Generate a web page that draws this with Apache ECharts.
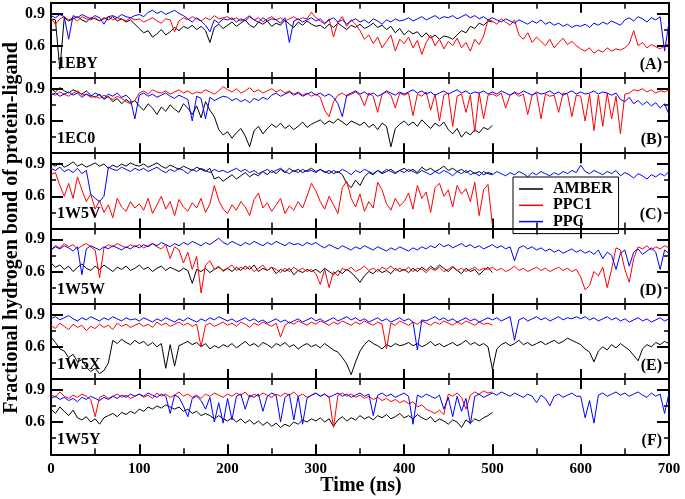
<!DOCTYPE html>
<html><head><meta charset="utf-8">
<script src="https://cdn.jsdelivr.net/npm/echarts@6/dist/echarts.min.js"></script>
<style>html,body{margin:0;padding:0;background:#fff}#c{width:685px;height:499px}</style>
</head><body><div id="c"></div>
<script>
// ---------------- data ----------------
const panelNames = ['1EBY', '1EC0', '1W5V', '1W5W', '1W5X', '1W5Y'];
const panelTags = ['(A)', '(B)', '(C)', '(D)', '(E)', '(F)'];
const seriesNames = ['AMBER', 'PPC1', 'PPC'];
const seriesColors = ['#000000', '#ff0000', '#0000ff'];
const sampleStep = 5; // ns between read-off samples
const yTickLabels = ['0.6', '0.9'];

// Panel A (1EBY)
const A_amber = [0.85,0.84,0.38,
0.86,0.83,0.85,0.87,0.84,0.82,0.86,0.85,0.83,0.86,0.84,0.87,0.83,0.85,0.82,0.84,0.80,
0.76,0.72,0.74,0.68,0.71,0.75,0.70,0.73,0.77,0.74,0.78,
0.76,0.79,0.75,0.78,0.74,0.63,0.77,0.80,0.76,0.79,
0.82,0.78,0.81,0.84,0.79,0.77,0.82,0.80,0.83,0.78,0.81,0.79,0.84,0.80,0.77,0.82,0.79,0.83,0.80,0.78,
0.79,0.76,0.80,0.77,0.81,0.78,0.75,0.79,0.77,0.80,0.76,0.78,0.81,0.77,0.79,0.75,
0.78,0.72,0.76,0.70,0.74,0.71,0.73,0.68,0.72,0.67,0.70,0.66,0.69,0.68,
0.66,0.70,0.74,0.72,0.78,0.76,0.81,0.79,0.83,0.82];
const A_ppc1 = [
0.86,0.80,0.85,0.87,0.84,0.86,0.83,0.87,0.85,0.84,0.86,0.83,0.85,0.87,0.84,0.86,0.85,0.83,0.86,0.84,
0.85,0.82,0.84,0.86,0.83,0.81,0.85,0.84,0.73,0.83,0.86,0.84,0.87,0.85,0.83,0.86,0.84,0.88,0.85,0.86,
0.87,0.84,0.86,0.83,0.85,0.88,0.84,0.86,0.82,0.85,0.87,0.84,0.86,0.83,0.85,0.87,0.84,0.86,0.85,0.91,
0.86,0.83,0.80,0.85,0.68,0.82,0.87,0.78,0.84,0.80,
0.74,0.66,0.70,0.62,0.68,0.58,0.64,0.70,0.55,0.66,
0.62,0.68,0.58,0.65,0.52,0.63,0.70,0.60,0.66,0.57,
0.64,0.60,0.67,0.58,0.63,0.55,0.66,0.61,0.69,0.84,
0.83,0.80,0.85,0.82,0.79,0.84,0.70,0.66,0.72,0.63,
0.68,0.64,0.60,0.66,0.58,0.63,0.67,0.61,0.64,0.60,
0.57,0.55,0.58,0.53,0.56,0.54,0.58,0.55,0.57,0.56,
0.58,0.62,0.74,0.60,0.63,0.58,0.61,0.59,0.57,0.60,0.62];
const A_ppc = [
0.88,0.86,0.89,0.87,0.66,0.88,0.86,0.89,0.87,0.85,0.88,0.86,0.80,0.87,0.88,0.86,0.89,0.87,0.86,0.88,
0.89,0.87,0.91,0.93,0.90,0.92,0.89,0.91,0.93,0.90,0.88,0.85,0.82,0.86,0.83,0.79,0.73,0.84,0.81,0.85,
0.84,0.86,0.82,0.85,0.83,0.87,0.84,0.82,0.86,0.83,0.85,0.84,0.81,0.86,0.63,0.83,0.85,0.82,0.84,0.86,
0.83,0.85,0.81,0.84,0.86,0.82,0.84,0.80,0.83,0.85,0.82,0.84,0.81,0.85,0.83,0.80,0.84,0.82,0.85,0.83,
0.84,0.86,0.83,0.85,0.87,0.84,0.86,0.88,0.85,0.87,0.86,0.88,0.85,0.87,0.89,0.86,0.88,0.85,0.87,0.84,
0.86,0.84,0.82,0.85,0.83,0.81,0.84,0.82,0.80,0.83,0.81,0.84,0.80,0.82,0.79,0.81,0.78,0.80,0.77,0.79,
0.78,0.80,0.77,0.81,0.79,0.82,0.80,0.83,0.81,0.79,0.84,0.86,0.83,0.87,0.85,0.82,0.86,0.84,0.87,0.55,0.82];

// Panel B (1EC0)
const B_amber = [
0.90,0.87,0.91,0.88,0.86,0.89,0.87,0.85,0.88,0.84,
0.82,0.85,0.80,0.83,0.78,0.81,0.76,0.80,0.77,0.79,
0.74,0.70,0.76,0.72,0.66,0.73,0.69,0.75,0.71,0.68,
0.76,0.72,0.66,0.74,0.63,0.78,0.70,0.64,
0.52,0.47,0.50,0.44,0.49,0.53,0.46,0.36,0.51,0.55,0.48,0.53,
0.57,0.54,0.58,0.53,0.56,0.52,0.55,0.59,0.54,0.57,
0.59,0.61,0.57,0.60,0.58,0.62,0.59,0.56,0.60,0.58,
0.56,0.59,0.54,0.57,0.52,0.58,0.55,0.36,0.53,0.57,
0.60,0.56,0.59,0.55,0.61,0.57,0.53,0.58,0.55,0.59,
0.52,0.48,0.53,0.45,0.50,0.47,0.52,0.49,0.54,0.52,0.56];
const B_ppc1 = [
0.86,0.84,0.87,0.85,0.83,0.86,0.88,0.84,0.85,0.82,0.83,0.81,0.84,0.82,0.80,0.83,0.81,0.78,0.76,0.79,
0.86,0.88,0.85,0.89,0.87,0.86,0.88,0.85,0.87,0.89,0.86,0.88,0.85,0.87,0.86,0.89,0.87,0.85,0.88,0.92,
0.89,0.87,0.90,0.86,0.88,0.91,0.87,0.89,0.86,0.88,0.90,0.87,0.89,0.86,0.88,0.85,0.87,0.84,0.86,0.83,
0.85,0.82,0.70,0.64,0.78,0.84,0.86,0.83,0.85,0.87,0.84,0.74,0.86,0.83,0.68,0.85,0.87,0.84,0.72,0.86,
0.84,0.86,0.65,0.85,0.83,0.87,0.70,0.85,0.60,0.84,0.86,0.55,0.83,0.85,0.68,0.84,0.50,0.86,0.62,0.84,
0.85,0.83,0.86,0.72,0.84,0.86,0.83,0.85,0.66,0.84,0.86,0.62,0.85,0.83,0.84,0.68,0.86,0.85,0.64,0.84,
0.83,0.60,0.85,0.51,0.84,0.55,0.86,0.62,0.83,0.48,0.85,0.86,0.89,0.88,0.90,0.87,0.89,0.86,0.88,0.87,0.89];
const B_ppc = [
0.84,0.86,0.83,0.85,0.87,0.84,0.86,0.82,0.85,0.83,0.86,0.84,0.81,0.85,0.83,0.86,0.82,0.84,0.80,0.62,
0.84,0.86,0.83,0.85,0.82,0.84,0.86,0.83,0.81,0.84,0.82,0.80,0.60,0.83,0.81,0.62,0.82,0.79,0.81,0.83,
0.82,0.79,0.81,0.78,0.80,0.77,0.81,0.79,0.82,0.80,0.84,0.86,0.83,0.85,0.87,0.84,0.86,0.83,0.85,0.87,
0.84,0.86,0.83,0.85,0.82,0.76,0.64,0.84,0.86,0.88,0.85,0.87,0.84,0.86,0.83,0.85,0.88,0.86,0.84,0.87,
0.85,0.87,0.89,0.86,0.88,0.85,0.87,0.84,0.86,0.88,0.85,0.87,0.89,0.86,0.88,0.85,0.87,0.86,0.88,0.85,
0.87,0.85,0.88,0.86,0.84,0.87,0.85,0.88,0.86,0.84,0.87,0.85,0.86,0.88,0.85,0.87,0.84,0.86,0.88,0.85,
0.87,0.85,0.86,0.88,0.85,0.87,0.86,0.84,0.86,0.80,0.78,0.82,0.76,0.79,0.75,0.78,0.74,0.77,0.72,0.76,0.66];

// Panel C (1W5V)
const C_amber = [
0.90,0.88,0.91,0.87,0.89,0.92,0.88,0.90,0.87,0.89,0.91,0.88,0.90,0.86,0.89,0.87,0.90,0.88,0.91,0.89,
0.88,0.90,0.87,0.89,0.91,0.88,0.86,0.89,0.87,0.85,0.88,0.86,0.84,0.87,0.85,0.83,0.86,0.76,0.78,0.74,
0.77,0.80,0.76,0.79,0.82,0.78,0.81,0.79,0.83,0.80,0.84,0.81,0.85,0.82,0.86,0.83,0.85,0.82,0.84,0.86,
0.83,0.85,0.82,0.84,0.81,0.83,0.80,0.72,0.68,0.75,0.70,0.78,0.82,0.80,0.84,0.81,0.83,0.85,0.82,0.84,
0.86,0.83,0.85,0.82,0.87,0.84,0.86,0.83,0.85,0.88,0.84,0.86,0.83,0.85,0.82,0.84,0.81,0.83,0.80,0.82,0.81];
const C_ppc1 = [
0.80,0.82,0.70,0.60,0.72,0.58,0.78,0.66,0.55,0.62,0.48,0.56,0.45,0.52,0.40,0.58,0.50,0.46,0.55,0.49,
0.53,0.47,0.58,0.44,0.52,0.60,0.48,0.55,0.42,0.57,0.50,0.46,0.54,0.49,0.58,0.45,0.53,0.70,0.56,0.48,
0.44,0.52,0.47,0.55,0.50,0.42,0.57,0.63,0.49,0.54,0.46,0.52,0.58,0.44,0.51,0.47,0.55,0.49,0.60,0.72,
0.65,0.55,0.48,0.60,0.52,0.44,0.68,0.74,0.58,0.50,0.62,0.46,0.55,0.49,0.73,0.66,0.53,0.47,0.58,0.51,
0.55,0.63,0.48,0.70,0.58,0.64,0.45,0.68,0.72,0.60,0.66,0.50,0.70,0.62,0.67,0.55,0.73,0.42,0.66,0.71,0.33];
const C_ppc = [
0.86,0.84,0.87,0.83,0.85,0.82,0.86,0.81,0.84,0.62,0.58,0.55,0.60,0.87,0.85,0.84,0.87,0.85,0.83,0.86,
0.84,0.86,0.83,0.85,0.87,0.84,0.82,0.85,0.83,0.86,0.84,0.81,0.85,0.83,0.86,0.84,0.82,0.85,0.83,0.84,
0.82,0.84,0.86,0.83,0.85,0.82,0.84,0.81,0.83,0.85,0.82,0.84,0.86,0.83,0.81,0.84,0.82,0.85,0.83,0.84,
0.82,0.85,0.83,0.81,0.84,0.82,0.85,0.83,0.80,0.84,0.82,0.85,0.83,0.81,0.84,0.82,0.85,0.83,0.81,0.84,
0.82,0.85,0.83,0.81,0.84,0.82,0.80,0.83,0.81,0.84,0.82,0.79,0.83,0.81,0.84,0.80,0.82,0.79,0.83,0.81,
0.80,0.83,0.81,0.79,0.82,0.80,0.83,0.81,0.78,0.82,0.80,0.83,0.81,0.79,0.82,0.80,0.83,0.81,0.84,0.82,
0.89,0.83,0.81,0.84,0.82,0.80,0.83,0.81,0.84,0.79,0.82,0.80,0.77,0.81,0.79,0.76,0.80,0.78,0.81,0.79,0.83];

// Panel D (1W5W)
const D_amber = [
0.68,0.64,0.66,0.62,0.65,0.60,0.64,0.67,0.63,0.61,0.65,0.62,0.66,0.63,0.60,0.64,0.62,0.65,0.61,0.63,
0.66,0.62,0.64,0.60,0.63,0.65,0.61,0.64,0.62,0.60,0.63,0.61,0.49,0.62,0.60,0.63,0.59,0.62,0.64,0.61,
0.63,0.60,0.64,0.61,0.65,0.62,0.66,0.60,0.63,0.61,0.64,0.58,0.62,0.60,0.63,0.57,0.61,0.59,0.62,0.60,
0.62,0.59,0.63,0.60,0.57,0.61,0.58,0.62,0.59,0.55,0.50,0.56,0.60,0.58,0.62,0.59,0.61,0.58,0.63,0.60,
0.62,0.59,0.63,0.60,0.64,0.61,0.65,0.62,0.66,0.63,0.60,0.64,0.61,0.58,0.63,0.60,0.62,0.57,0.61,0.64,0.59];
const D_ppc1 = [
0.80,0.84,0.82,0.86,0.83,0.85,0.81,0.84,0.86,0.83,0.80,0.54,0.82,0.85,0.83,0.86,0.84,0.82,0.85,0.83,
0.85,0.82,0.84,0.86,0.83,0.81,0.85,0.72,0.83,0.80,0.68,0.78,0.62,0.74,0.40,0.66,0.70,0.62,0.65,0.60,
0.63,0.66,0.61,0.64,0.62,0.65,0.60,0.63,0.66,0.61,0.64,0.62,0.59,0.63,0.60,0.64,0.61,0.63,0.60,0.62,
0.58,0.48,0.62,0.45,0.60,0.56,0.63,0.61,0.64,0.60,0.62,0.65,0.61,0.63,0.60,0.64,0.62,0.65,0.61,0.63,
0.61,0.64,0.60,0.63,0.62,0.59,0.63,0.61,0.64,0.60,0.62,0.65,0.61,0.63,0.60,0.62,0.64,0.61,0.63,0.62,
0.64,0.61,0.63,0.60,0.62,0.65,0.61,0.63,0.60,0.62,0.64,0.61,0.63,0.60,0.62,0.64,0.61,0.63,0.60,0.62,
0.55,0.43,0.47,0.60,0.56,0.64,0.45,0.62,0.82,0.80,0.62,0.50,0.72,0.83,0.81,0.84,0.80,0.83,0.81,0.84,0.82];
const D_ppc = [
0.80,0.83,0.81,0.84,0.82,0.79,0.83,0.57,0.81,0.84,0.82,0.80,0.83,0.81,0.84,0.82,0.80,0.83,0.81,0.84,
0.82,0.85,0.83,0.86,0.84,0.87,0.85,0.83,0.86,0.84,0.87,0.85,0.88,0.86,0.84,0.87,0.85,0.88,0.91,0.87,
0.85,0.88,0.86,0.84,0.87,0.85,0.88,0.86,0.84,0.87,0.85,0.88,0.86,0.84,0.87,0.85,0.86,0.84,0.87,0.85,
0.87,0.84,0.82,0.85,0.83,0.81,0.84,0.82,0.80,0.83,0.81,0.84,0.82,0.80,0.83,0.81,0.79,0.82,0.80,0.83,
0.81,0.79,0.82,0.80,0.83,0.81,0.84,0.82,0.86,0.83,0.85,0.82,0.84,0.86,0.83,0.85,0.82,0.84,0.81,0.83,
0.85,0.82,0.84,0.81,0.83,0.70,0.82,0.84,0.81,0.83,0.80,0.82,0.79,0.81,0.78,0.80,0.77,0.79,0.81,0.78,
0.80,0.77,0.79,0.76,0.80,0.72,0.78,0.75,0.62,0.77,0.80,0.65,0.78,0.81,0.76,0.79,0.82,0.78,0.62,0.80,0.77];

// Panel E (1W5X)
const E_amber = [
0.69,0.64,0.58,0.56,0.50,0.53,0.46,0.48,0.41,0.37,0.40,0.35,0.38,0.45,0.66,0.63,0.67,0.64,0.62,0.66,
0.63,0.65,0.61,0.64,0.60,0.63,0.40,0.62,0.42,0.61,0.63,0.65,0.62,0.64,0.60,0.63,0.58,0.61,0.59,0.62,
0.60,0.63,0.59,0.62,0.65,0.61,0.63,0.60,0.64,0.62,0.59,0.63,0.61,0.64,0.60,0.62,0.58,0.61,0.63,0.60,
0.62,0.59,0.63,0.60,0.57,0.55,0.50,0.44,0.34,0.46,0.56,0.62,0.66,0.63,0.61,0.58,0.62,0.60,0.63,0.61,
0.62,0.64,0.61,0.63,0.60,0.62,0.65,0.61,0.63,0.60,0.62,0.64,0.61,0.63,0.66,0.62,0.64,0.61,0.63,0.60,
0.39,0.58,0.62,0.64,0.61,0.63,0.66,0.62,0.64,0.61,0.63,0.65,0.62,0.64,0.66,0.63,0.65,0.68,0.66,0.64,
0.62,0.58,0.55,0.46,0.56,0.60,0.57,0.62,0.59,0.63,0.60,0.57,0.52,0.47,0.58,0.62,0.60,0.64,0.62,0.65,0.63];
const E_ppc1 = [
0.80,0.77,0.82,0.79,0.76,0.81,0.78,0.80,0.75,0.79,0.77,0.81,0.78,0.80,0.76,0.82,0.79,0.81,0.78,0.80,
0.82,0.79,0.81,0.78,0.83,0.80,0.82,0.79,0.81,0.83,0.80,0.82,0.79,0.81,0.60,0.80,0.82,0.79,0.81,0.83,
0.80,0.82,0.79,0.83,0.81,0.78,0.82,0.80,0.83,0.81,0.79,0.82,0.69,0.80,0.83,0.81,0.84,0.82,0.80,0.83,
0.81,0.84,0.82,0.80,0.83,0.81,0.84,0.82,0.80,0.83,0.81,0.84,0.82,0.80,0.83,0.81,0.58,0.82,0.80,0.84,
0.82,0.80,0.83,0.81,0.84,0.82,0.80,0.83,0.81,0.84,0.82,0.80,0.83,0.81,0.84,0.82,0.80,0.83,0.81,0.82,0.80];
const E_ppc = [
0.86,0.88,0.85,0.87,0.89,0.86,0.84,0.87,0.85,0.88,0.86,0.84,0.87,0.85,0.88,0.86,0.84,0.87,0.85,0.86,
0.84,0.87,0.85,0.83,0.86,0.84,0.87,0.85,0.83,0.86,0.84,0.87,0.85,0.83,0.86,0.84,0.87,0.85,0.88,0.86,
0.84,0.86,0.83,0.85,0.87,0.84,0.86,0.83,0.85,0.82,0.84,0.86,0.83,0.85,0.82,0.84,0.86,0.83,0.85,0.87,
0.84,0.86,0.83,0.85,0.87,0.84,0.86,0.88,0.85,0.87,0.84,0.86,0.83,0.85,0.87,0.84,0.86,0.83,0.85,0.87,
0.84,0.86,0.83,0.57,0.85,0.84,0.86,0.88,0.85,0.87,0.84,0.86,0.83,0.85,0.87,0.84,0.86,0.83,0.85,0.87,
0.85,0.87,0.84,0.86,0.88,0.66,0.85,0.87,0.84,0.86,0.88,0.85,0.87,0.84,0.86,0.88,0.85,0.87,0.86,0.88,
0.86,0.88,0.85,0.87,0.84,0.86,0.88,0.85,0.87,0.84,0.86,0.83,0.85,0.87,0.84,0.86,0.83,0.85,0.87,0.84,0.86];

// Panel F (1W5Y)
const F_amber = [
0.72,0.68,0.74,0.70,0.66,0.71,0.64,0.62,0.65,0.60,0.63,0.58,0.64,0.66,0.68,0.65,0.69,0.67,0.70,0.68,
0.72,0.70,0.74,0.72,0.75,0.73,0.76,0.74,0.72,0.74,0.70,0.72,0.68,0.70,0.66,0.68,0.66,0.63,0.66,0.63,
0.61,0.64,0.60,0.63,0.59,0.62,0.58,0.61,0.57,0.60,0.56,0.59,0.55,0.58,0.56,0.60,0.58,0.62,0.60,0.63,
0.61,0.64,0.60,0.63,0.56,0.62,0.65,0.61,0.64,0.62,0.66,0.63,0.65,0.62,0.66,0.64,0.67,0.63,0.65,0.68,
0.64,0.66,0.63,0.67,0.64,0.62,0.65,0.60,0.63,0.61,0.58,0.62,0.60,0.55,0.62,0.59,0.63,0.61,0.64,0.66,0.69];
const F_ppc1 = [
0.86,0.83,0.88,0.84,0.82,0.85,0.83,0.86,0.84,0.81,0.65,0.83,0.85,0.82,0.84,0.86,0.83,0.85,0.82,0.84,
0.86,0.83,0.85,0.82,0.87,0.84,0.86,0.83,0.85,0.88,0.84,0.86,0.83,0.85,0.82,0.86,0.84,0.87,0.85,0.83,
0.86,0.84,0.87,0.85,0.88,0.83,0.86,0.84,0.87,0.85,0.83,0.86,0.84,0.87,0.85,0.88,0.84,0.86,0.83,0.85,
0.87,0.84,0.86,0.83,0.55,0.85,0.87,0.84,0.86,0.83,0.85,0.82,0.84,0.81,0.83,0.80,0.82,0.79,0.81,0.78,
0.80,0.77,0.79,0.74,0.76,0.72,0.70,0.68,0.71,0.67,0.86,0.84,0.87,0.83,0.72,0.85,0.88,0.86,0.89,0.87,0.88];
const F_ppc = [
0.82,0.84,0.81,0.83,0.80,0.82,0.79,0.83,0.81,0.84,0.82,0.80,0.83,0.81,0.84,0.82,0.85,0.83,0.86,0.84,
0.86,0.84,0.87,0.85,0.83,0.86,0.84,0.68,0.85,0.83,0.75,0.65,0.82,0.84,0.80,0.72,0.83,0.60,0.78,0.59,
0.82,0.62,0.84,0.86,0.72,0.85,0.83,0.86,0.70,0.84,0.87,0.85,0.60,0.83,0.86,0.62,0.84,0.58,0.82,0.85,
0.87,0.84,0.86,0.83,0.85,0.87,0.84,0.86,0.83,0.85,0.87,0.84,0.86,0.66,0.85,0.87,0.84,0.86,0.83,0.85,
0.87,0.84,0.58,0.85,0.83,0.86,0.84,0.82,0.85,0.72,0.83,0.65,0.84,0.70,0.82,0.58,0.84,0.86,0.83,0.85,
0.87,0.85,0.88,0.86,0.84,0.87,0.85,0.83,0.86,0.84,0.78,0.85,0.82,0.75,0.84,0.86,0.83,0.85,0.87,0.84,
0.84,0.64,0.80,0.59,0.85,0.87,0.84,0.86,0.88,0.85,0.87,0.84,0.86,0.88,0.85,0.83,0.87,0.84,0.86,0.68,0.87];

const panelData = [
  [A_amber, A_ppc1, A_ppc],
  [B_amber, B_ppc1, B_ppc],
  [C_amber, C_ppc1, C_ppc],
  [D_amber, D_ppc1, D_ppc],
  [E_amber, E_ppc1, E_ppc],
  [F_amber, F_ppc1, F_ppc]
];

// ---------------- layout ----------------
const FONT = '"Liberation Serif", "DejaVu Serif", serif';
const plotLeft = 51, plotRight = 16, plotTop = 2.7, panelH = 75.27;
const grids = [], xAxes = [], yAxes = [], series = [], graphics = [];
const axLine = { show: true, onZero: false, lineStyle: { color: '#000', width: 2 } };

for (let k = 0; k < 6; k++) {
  const top = plotTop + panelH * k;
  grids.push({ left: plotLeft, right: plotRight, top: top, height: panelH });
  const xBase = {
    gridIndex: k, type: 'value', min: 0, max: 700, interval: 100,
    axisLine: axLine,
    axisTick: { show: true, inside: true, length: 10, lineStyle: { color: '#000', width: 2 } },
    minorTick: { show: true, splitNumber: 2, length: 6, lineStyle: { color: '#000', width: 1.5 } },
    splitLine: { show: false }, minorSplitLine: { show: false }
  };
  xAxes.push(Object.assign({}, xBase, {
    position: 'bottom',
    axisLabel: { show: k === 5, margin: 7, color: '#000', fontFamily: FONT, fontWeight: 'bold', fontSize: 15 }
  }));
  xAxes.push(Object.assign({}, xBase, { position: 'top', axisLabel: { show: false } }));
  const yBase = {
    gridIndex: k, type: 'value', min: 0.3, max: 1.0, interval: 0.3,
    axisLine: axLine,
    axisTick: { show: true, inside: true, length: 12, lineStyle: { color: '#000', width: 2 } },
    minorTick: { show: true, splitNumber: 2, length: 5, lineStyle: { color: '#000', width: 1.5 } },
    splitLine: { show: false }, minorSplitLine: { show: false }
  };
  yAxes.push(Object.assign({}, yBase, {
    position: 'left',
    axisLabel: {
      show: true, margin: 6, color: '#000', fontFamily: FONT, fontWeight: 'bold', fontSize: 16,
      formatter: v => { const s = (Math.round(v * 100) / 100).toFixed(1); return yTickLabels.indexOf(s) >= 0 && Math.abs(v - parseFloat(s)) < 1e-6 ? s : ''; }
    }
  }));
  yAxes.push(Object.assign({}, yBase, { position: 'right', axisLabel: { show: false } }));

  panelData[k].forEach((arr, j) => {
    series.push({
      name: seriesNames[j], type: 'line',
      xAxisIndex: 2 * k, yAxisIndex: 2 * k,
      data: arr.map((v, i) => [i * sampleStep, v]),
      showSymbol: false, symbol: 'none', smooth: false,
      lineStyle: { color: seriesColors[j], width: 1 },
      itemStyle: { color: seriesColors[j] },
      clip: true, animation: false, z: 2 + j
    });
  });

  graphics.push({
    type: 'text', x: 57, y: top + 61,
    style: { text: panelNames[k], font: 'bold 16px ' + FONT, fill: '#000', textAlign: 'left', verticalAlign: 'middle', textVerticalAlign: 'middle' },
    z: 10
  });
  graphics.push({
    type: 'text', x: 662, y: top + 62,
    style: { text: panelTags[k], font: 'bold 16px ' + FONT, fill: '#000', textAlign: 'right', verticalAlign: 'middle', textVerticalAlign: 'middle' },
    z: 10
  });
}

graphics.push({
  type: 'text', x: 12, y: 228, rotation: Math.PI / 2,
  style: { text: 'Fractional hydrogen bond of protein-ligand', font: 'bold 20px ' + FONT, fill: '#000', textAlign: 'center', verticalAlign: 'middle', textVerticalAlign: 'middle' }
});
graphics.push({
  type: 'text', x: 361, y: 486,
  style: { text: 'Time (ns)', font: 'bold 20px ' + FONT, fill: '#000', textAlign: 'center', verticalAlign: 'middle', textVerticalAlign: 'middle' }
});

const chart = echarts.init(document.getElementById('c'), null, { renderer: 'canvas' });
chart.setOption({
  animation: false,
  backgroundColor: '#fff',
  grid: grids, xAxis: xAxes, yAxis: yAxes, series: series,
  legend: {
    data: seriesNames, orient: 'vertical', left: 513, top: 177,
    borderColor: '#000', borderWidth: 1, borderRadius: 0,
    padding: [4, 6, 4, 6], itemGap: 0.3, itemWidth: 24, itemHeight: 1.5, icon: 'rect',
    textStyle: { color: '#000', fontFamily: FONT, fontWeight: 'bold', fontSize: 16, lineHeight: 16, padding: [0, 0, 0, 5] },
    selectedMode: false
  },
  graphic: graphics
});
</script>
</body></html>
